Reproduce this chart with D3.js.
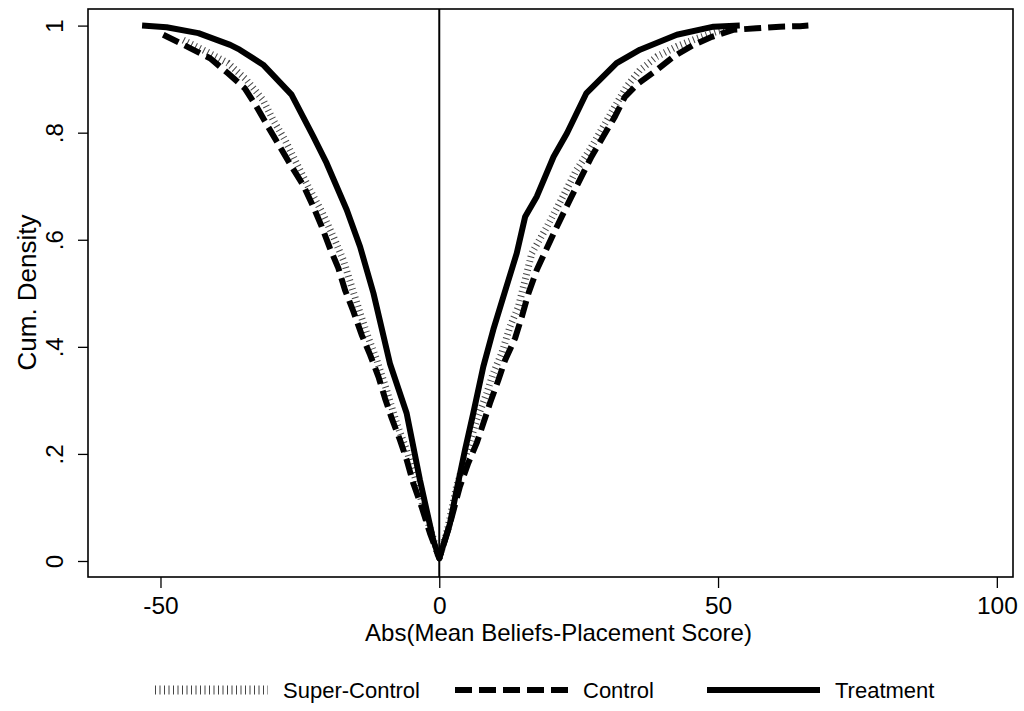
<!DOCTYPE html>
<html>
<head>
<meta charset="utf-8">
<script src="https://cdn.jsdelivr.net/npm/d3@7"></script>
<style>
  body { margin: 0; background: #fff; }
  text { font-family: "Liberation Sans", Arial, sans-serif; fill: #000; }
</style>
</head>
<body>
<div id="chart"></div>
<script>
// values: x = signed abs score, p = cumulative density
var superX = [-45.9,-41.7,-37.9,-34.6,-31.6,-29.8,-27.7,-25.6,-23.2,-21.1,-19.0,-17.2,-15.7,-14.2,-13.0,-11.2,-9.44,-7.64,-5.85,-4.36,-2.87,-1.37,0,
              1.5,3.1,4.9,6.7,8.5,9.7,11.2,12.7,14.2,16.6,19.3,22.2,24.6,27.0,29.4,31.5,33.6,36.0,39.0,42.6,46.2,49.8,52.7];
var superP = [0.973,0.951,0.93,0.899,0.861,0.824,0.787,0.743,0.693,0.653,0.606,0.562,0.512,0.463,0.425,0.375,0.319,0.257,0.207,0.157,0.101,0.052,0.005,
              0.06,0.139,0.201,0.263,0.313,0.351,0.388,0.438,0.475,0.575,0.624,0.681,0.73,0.768,0.811,0.849,0.886,0.917,0.942,0.961,0.976,0.989,0.995];

var controlX = [-49.5,-44.7,-41.1,-37.9,-34.9,-32.8,-30.7,-28.6,-26.5,-24.4,-22.6,-21.1,-19.6,-18.1,-16.9,-15.4,-13.9,-12.4,-10.9,-9.74,-8.54,-7.05,-5.85,-4.66,-3.16,-1.67,0,
                1.8,3.7,5.2,6.7,7.9,9.1,10.6,11.8,13.6,14.8,16.0,17.5,20.8,23.4,25.5,27.3,29.4,31.5,33.3,35.7,39.0,42.0,45.6,48.9,52.7,56.9,61.1,64.7,66.2];
var controlP = [0.983,0.958,0.939,0.911,0.883,0.849,0.811,0.774,0.737,0.702,0.662,0.625,0.584,0.547,0.506,0.466,0.422,0.385,0.344,0.304,0.267,0.226,0.189,0.145,0.101,0.052,0.005,
                0.065,0.139,0.183,0.22,0.257,0.295,0.338,0.375,0.416,0.456,0.5,0.544,0.618,0.674,0.718,0.755,0.793,0.83,0.867,0.892,0.917,0.942,0.964,0.979,0.992,0.995,0.998,0.999,1.0];

var treatX = [-53.3,-48.9,-43.2,-37.5,-35.8,-31.6,-26.5,-22.6,-20.2,-16.6,-14.2,-11.8,-8.85,-5.85,-3.46,-1.07,0,
              1.92,3.12,4.61,6.1,7.9,9.69,11.5,13.9,15.4,17.5,20.5,22.9,26.4,31.8,36.0,42.6,49.2,53.9];
var treatP = [1.0,0.997,0.986,0.964,0.955,0.927,0.871,0.793,0.743,0.656,0.587,0.50,0.369,0.276,0.151,0.039,0.005,
              0.07,0.133,0.207,0.276,0.363,0.432,0.494,0.575,0.643,0.681,0.755,0.799,0.874,0.93,0.955,0.983,0.998,1.0];

var xTicks = [-50, 0, 50, 100];
var yTicks = [0, 0.2, 0.4, 0.6, 0.8, 1];
var yTickLabels = ["0", ".2", ".4", ".6", ".8", "1"];

var seriesNames = ["Super-Control", "Control", "Treatment"];

var width = 1024, height = 711;
var plotLeft = 88, plotRight = 1013, plotTop = 9, plotBottom = 577;

var x = d3.scaleLinear().domain([-63.0, 102.9]).range([plotLeft, plotRight]);
var y = d3.scaleLinear().domain([-0.0299, 1.031]).range([plotBottom, plotTop]);

var svg = d3.select("#chart").append("svg")
    .attr("width", width)
    .attr("height", height);

var styles = [
    { width: 7, dash: "1 3.5", color: "#444" },
    { width: 6, dash: "17 7", color: "#000" },
    { width: 6, dash: null, color: "#000" }
];

var series = [
    d3.zip(superX, superP),
    d3.zip(controlX, controlP),
    d3.zip(treatX, treatP)
];

// zero line
svg.append("line")
    .attr("x1", x(0)).attr("x2", x(0))
    .attr("y1", plotTop).attr("y2", plotBottom)
    .attr("stroke", "#000")
    .attr("stroke-width", 2);

var line = d3.line()
    .x(function(d){ return x(d[0]); })
    .y(function(d){ return y(d[1]); });

series.forEach(function(s, i){
    svg.append("path")
        .datum(s)
        .attr("d", line)
        .attr("fill", "none")
        .attr("stroke", styles[i].color)
        .attr("stroke-width", styles[i].width)
        .attr("stroke-dasharray", styles[i].dash)
        .attr("stroke-linejoin", "round");
});

// frame
svg.append("rect")
    .attr("x", plotLeft).attr("y", plotTop)
    .attr("width", plotRight - plotLeft).attr("height", plotBottom - plotTop)
    .attr("fill", "none")
    .attr("stroke", "#000")
    .attr("stroke-width", 1.6);

// x axis
var xAxis = d3.axisBottom(x).tickValues(xTicks).tickSize(11).tickPadding(9)
    .tickFormat(function(d){ return String(d); });
var gx = svg.append("g").attr("transform", "translate(0," + plotBottom + ")").call(xAxis);
gx.select(".domain").remove();
gx.selectAll("line").attr("stroke-width", 1.3);
gx.selectAll("text").style("font-size", "24.5px").style("font-family", "Liberation Sans, Arial, sans-serif");

// y axis
var yAxis = d3.axisLeft(y).tickValues(yTicks).tickSize(10).tickFormat(function(d, i){ return yTickLabels[i]; });
var gy = svg.append("g").attr("transform", "translate(" + plotLeft + ",0)").call(yAxis);
gy.select(".domain").remove();
gy.selectAll("line").attr("stroke-width", 1.3);
gy.selectAll("text")
    .attr("x", null).attr("dy", null)
    .attr("text-anchor", "middle")
    .attr("transform", "translate(-33,0) rotate(-90)")
    .attr("dy", "0.35em")
    .style("font-size", "24px")
    .style("font-family", "Liberation Sans, Arial, sans-serif");

// axis titles
svg.append("text")
    .attr("x", (plotLeft + plotRight) / 2 + 8)
    .attr("y", 641)
    .attr("text-anchor", "middle")
    .style("font-size", "24px")
    .text("Abs(Mean Beliefs-Placement Score)");

svg.append("text")
    .attr("transform", "translate(36,292.5) rotate(-90)")
    .attr("text-anchor", "middle")
    .style("font-size", "26px")
    .text("Cum. Density");

// legend
var legendX = [155, 455, 707];
var legendY = 690;
seriesNames.forEach(function(name, i){
    var g = svg.append("g");
    g.append("line")
        .attr("x1", legendX[i]).attr("x2", legendX[i] + 113)
        .attr("y1", legendY).attr("y2", legendY)
        .attr("stroke", styles[i].color)
        .attr("stroke-width", i === 0 ? 9 : styles[i].width)
        .attr("stroke-dasharray", styles[i].dash);
    g.append("text")
        .attr("x", legendX[i] + 128)
        .attr("y", legendY + 8)
        .style("font-size", "22px")
        .text(name);
});
</script>
</body>
</html>
